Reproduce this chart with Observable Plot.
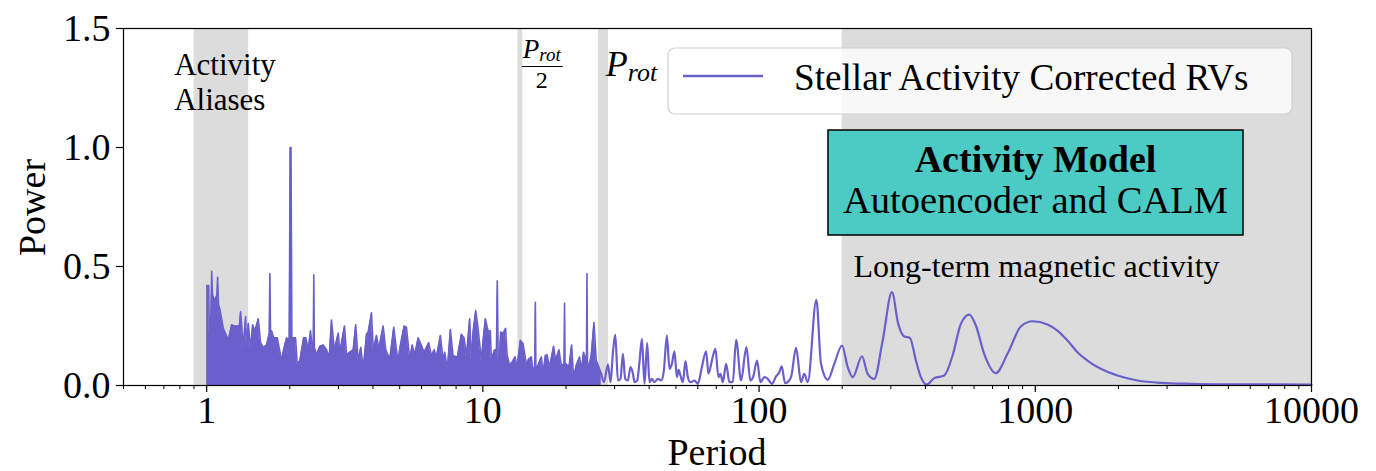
<!DOCTYPE html>
<html><head><meta charset="utf-8">
<script src="https://cdn.jsdelivr.net/npm/d3@7"></script>
<script src="https://cdn.jsdelivr.net/npm/@observablehq/plot@0.6"></script>
<style>body{margin:0;background:#fff} svg{display:block}</style>
</head><body><div id="chart"></div>
<script>
// ---------- data ----------
const xTicks = [1, 10, 100, 1000, 10000];
const yTicks = [0, 0.5, 1.0, 1.5];

// shaded period ranges [from, to]
const bands = [[0.9, 1.42], [13.4, 13.95], [26.2, 28.5], [200, 10000]];

// dense high-frequency part of the periodogram: [period, power] envelope
const denseSpectrum = [
  [1.0,0.42],[1.017,0.42],[1.023,0.22],[1.037,0.30],[1.043,0.48],[1.05,0.38],[1.063,0.365],[1.072,0.36],[1.09,0.38],[1.096,0.455],
  [1.104,0.34],[1.117,0.32],[1.149,0.24],[1.198,0.19],[1.231,0.255],[1.263,0.25],[1.313,0.25],[1.327,0.31],[1.358,0.16],
  [1.384,0.29],[1.395,0.15],[1.415,0.26],[1.442,0.155],[1.467,0.255],[1.495,0.23],[1.538,0.28],[1.568,0.18],[1.604,0.16],
  [1.648,0.17],[1.685,0.22],[1.694,0.47],[1.703,0.23],[1.718,0.23],[1.751,0.2],[1.802,0.2],[1.867,0.105],[1.904,0.155],[1.947,0.2],
  [1.99,0.19],[2.006,1.0],[2.02,1.0],[2.035,0.19],[2.046,0.2],[2.098,0.2],[2.128,0.09],[2.175,0.105],[2.243,0.2],[2.286,0.2],
  [2.332,0.15],[2.377,0.23],[2.417,0.15],[2.432,0.16],[2.443,0.465],[2.455,0.16],[2.499,0.13],[2.570,0.165],[2.643,0.17],[2.716,0.15],
  [2.778,0.12],[2.832,0.275],[2.886,0.17],[2.911,0.16],[2.995,0.22],[3.035,0.14],[3.156,0.25],[3.209,0.13],[3.298,0.14],
  [3.393,0.15],[3.464,0.255],[3.537,0.105],[3.615,0.16],[3.688,0.07],[3.791,0.215],[3.845,0.225],[3.952,0.305],[4.009,0.15],
  [4.120,0.21],[4.200,0.155],[4.356,0.25],[4.451,0.15],[4.602,0.11],[4.758,0.245],[4.867,0.15],[4.936,0.1],[5.002,0.155],
  [5.188,0.25],[5.288,0.245],[5.436,0.11],[5.546,0.17],[5.667,0.13],[5.829,0.2],[5.957,0.175],[6.128,0.14],[6.368,0.18],
  [6.512,0.125],[6.660,0.15],[6.789,0.12],[7.019,0.21],[7.179,0.105],[7.274,0.14],[7.440,0.07],[7.628,0.235],[7.801,0.125],
  [8.086,0.12],[8.359,0.215],[8.550,0.2],[8.715,0.12],[8.959,0.28],[9.087,0.105],[9.217,0.225],[9.419,0.315],[9.610,0.24],
  [9.876,0.105],[10.02,0.19],[10.21,0.28],[10.44,0.23],[10.64,0.23],[10.73,0.11],[11.03,0.15],[11.2,0.15],[11.28,0.44],[11.36,0.12],
  [11.44,0.09],[11.60,0.225],[11.83,0.22],[12.09,0.24],[12.23,0.13],[12.50,0.085],[12.79,0.1],[13.08,0.12],[13.30,0.077],
  [13.67,0.19],[13.98,0.175],[14.37,0.09],[14.64,0.11],[14.98,0.12],[15.19,0.063],[15.42,0.08],[15.49,0.35],[15.56,0.08],[15.74,0.077],
  [16.28,0.12],[16.51,0.05],[16.83,0.125],[17.07,0.13],[17.44,0.077],[18.03,0.165],[18.34,0.105],[18.86,0.15],[19.23,0.085],
  [19.68,0.09],[19.76,0.345],[19.84,0.09],[20.04,0.09],[20.50,0.077],[20.95,0.17],[21.30,0.035],[21.79,0.085],[22.39,0.12],[22.71,0.063],
  [23.15,0.14],[23.72,0.1],[23.82,0.47],[23.92,0.1],[24.22,0.077],[24.69,0.13],[25.25,0.265],[25.73,0.105],[26.32,0.077],[26.83,0.05]
];

// smoother low-frequency part: [period, power]
const smoothSpectrum = [
  [26.83,0.05],[27.43,0.014],[28.37,0.088],[28.99,0.014],[29.58,0.14],[30.15,0.214],[30.83,0.021],[31.50,0.028],[32.14,0.133],
  [32.76,0.028],[33.50,0.021],[34.23,0.077],[34.93,0.05],[35.40,0.014],[36.21,0.021],[36.91,0.1],[37.65,0.196],[38.48,0.007],
  [39.35,0.178],[40.11,0.014],[40.92,0.028],[41.81,0.014],[43.01,0.028],[44.22,0.021],[45.22,0.063],[46.37,0.21],[47.38,0.07],
  [48.34,0.091],[49.40,0.144],[50.40,0.035],[51.08,0.066],[51.93,0.042],[52.99,0.014],[54.14,0.102],[55.23,0.035],[56.44,0.014],
  [58.34,0.021],[60.02,0.007],[62.06,0.077],[64.32,0.144],[65.56,0.05],[68.01,0.122],[69.50,0.154],[71.26,0.035],[72.46,0.049],
  [73.92,0.014],[75.98,0.091],[78.09,0.014],[80.33,0.014],[82.56,0.192],[86.08,0.021],[89.97,0.161],[93.02,0.021],[95.12,0.035],
  [98.35,0.105],[101.1,0.014],[104.5,0.035],[107.5,0.028],[111.2,0.007],[115.2,0.038],[118.4,0.056],[120.8,0.08],[124.2,0.01],
  [130.5,0.035],[136.1,0.158],[141.9,0.014],[145.8,0.049],[150.0,0.014],[161.2,0.36],[167.6,0.091],[177.3,0.024],[187.2,0.091],
  [199.6,0.168],[209.4,0.077],[218.3,0.035],[235.8,0.123],[247.2,0.049],[261.2,0.028],[280.2,0.189],[302.7,0.392],[319.0,0.259],
  [335.4,0.206],[351.7,0.2],[369.7,0.105],[385.4,0.035],[404.2,0.004],[430.5,0.031],[468.0,0.042],[501.9,0.126],[537.8,0.259],
  [576.3,0.298],[609.4,0.252],[653.0,0.133],[719.7,0.052],[793.3,0.133],[886.4,0.248],[977.0,0.27],[1107,0.256],[1203,0.231],
  [1308,0.189],[1421,0.14],[1545,0.105],[1726,0.07],[1983,0.042],[2343,0.021],[2844,0.011],[3651,0.007],[5094,0.005],[10000,0.004]
];

// ---------- styling ----------
const COLOR = "#6a5fcb";
const FONT = "'Liberation Serif', 'Times New Roman', serif";
const minorTicks = d3.scaleLog().domain([0.5, 10000]).ticks().filter(t => !xTicks.includes(t));

const plot = Plot.plot({
  width: 1376, height: 471,
  marginLeft: 123, marginRight: 65, marginTop: 28, marginBottom: 86,
  style: {fontFamily: FONT, fontSize: "38px", color: "#000", background: "#fff", overflow: "visible"},
  x: {type: "log", domain: [0.5, 10000]},
  y: {domain: [0, 1.5]},
  marks: [
    Plot.rect(bands, {x1: d => d[0], x2: d => d[1], y1: 0, y2: 1.5, fill: "#dcdcdc"}),
    Plot.areaY(denseSpectrum, {x: d => d[0], y: d => d[1], fill: COLOR}),
    Plot.line(denseSpectrum, {x: d => d[0], y: d => d[1], stroke: COLOR, strokeWidth: 1.6}),
    Plot.line(smoothSpectrum, {x: d => d[0], y: d => d[1], stroke: COLOR, strokeWidth: 2.2, curve: "monotone-x"}),
    Plot.axisX({ticks: minorTicks, tickSize: 4, tickFormat: () => "", label: null, strokeWidth: 1}),
    Plot.axisX({ticks: xTicks, tickSize: 7, tickPadding: 4, tickFormat: d => String(d), label: null, strokeWidth: 1.2}),
    Plot.axisY({ticks: yTicks, tickSize: 7, tickPadding: 6, tickFormat: d3.format(".1f"), label: null, strokeWidth: 1.2}),
    Plot.frame({stroke: "#000", strokeWidth: 1.2})
  ]
});
document.getElementById("chart").append(plot);

const sx = plot.scale("x"), sy = plot.scale("y");
const X = v => sx.apply(v), Y = v => sy.apply(v);
const svg = d3.select(plot);
const g = svg.append("g").attr("font-family", FONT).attr("fill", "#000").attr("text-anchor", "start");

// axis labels
g.append("text").attr("transform", `translate(45,${(Y(0) + Y(1.5)) / 2 + 1}) rotate(-90)`)
  .attr("text-anchor", "middle").attr("font-size", 38).text("Power");
g.append("text").attr("x", (X(0.5) + X(10000)) / 2).attr("y", 465)
  .attr("text-anchor", "middle").attr("font-size", 38).text("Period");

// annotations
const aa = g.append("text").attr("font-size", 31);
aa.append("tspan").attr("x", X(0.766)).attr("y", Y(1.303)).text("Activity");
aa.append("tspan").attr("x", X(0.766)).attr("y", Y(1.155)).text("Aliases");
g.append("text").attr("x", X(220.6)).attr("y", Y(0.454)).attr("font-size", 32).text("Long-term magnetic activity");

// P_rot / 2
const fx = X(16.41);
const num = g.append("text").attr("x", fx - 19).attr("y", 58).attr("font-style", "italic");
num.append("tspan").attr("font-size", 27).text("P");
num.append("tspan").attr("font-size", 19).attr("dy", 3).text("rot");
g.append("line").attr("x1", fx - 20).attr("x2", fx + 21).attr("y1", 66.5).attr("y2", 66.5)
  .attr("stroke", "#000").attr("stroke-width", 1.1);
g.append("text").attr("x", fx).attr("y", 88).attr("text-anchor", "middle").attr("font-size", 24).text("2");

// P_rot
const pr = g.append("text").attr("x", X(27.97)).attr("y", 76).attr("font-style", "italic");
pr.append("tspan").attr("font-size", 36).text("P");
pr.append("tspan").attr("font-size", 26).attr("dy", 5).text("rot");

// legend
const frameRight = X(10000), frameTop = Y(1.5);
g.append("rect").attr("x", frameRight - 643).attr("y", frameTop + 20).attr("width", 624).attr("height", 66).attr("rx", 7)
  .attr("fill", "rgba(255,255,255,0.8)").attr("stroke", "#cfcfcf").attr("stroke-width", 1.2);
g.append("line").attr("x1", frameRight - 628).attr("x2", frameRight - 548).attr("y1", frameTop + 48).attr("y2", frameTop + 48)
  .attr("stroke", COLOR).attr("stroke-width", 2.5);
g.append("text").attr("x", frameRight - 517).attr("y", frameTop + 62).attr("font-size", 37.2).text("Stellar Activity Corrected RVs");

// activity model box
g.append("rect").attr("x", 828).attr("y", 130).attr("width", 415).attr("height", 105)
  .attr("fill", "#4ccac4").attr("stroke", "#000").attr("stroke-width", 1.5);
g.append("text").attr("x", 1035.5).attr("y", 172).attr("text-anchor", "middle").attr("font-size", 38)
  .attr("font-weight", "bold").text("Activity Model");
g.append("text").attr("x", 1035.5).attr("y", 213).attr("text-anchor", "middle").attr("font-size", 38.5)
  .text("Autoencoder and CALM");
</script>
</body></html>
